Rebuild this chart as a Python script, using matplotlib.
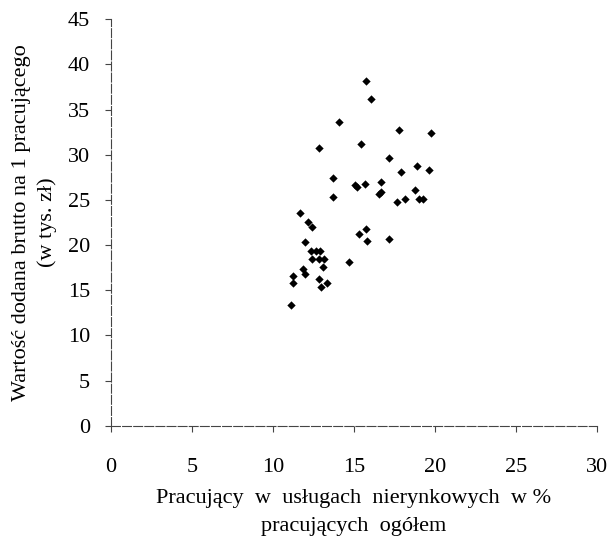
import numpy as np
import matplotlib
matplotlib.use("Agg")
import matplotlib.pyplot as plt

plt.rcParams['font.family'] = ['Liberation Serif', 'DejaVu Serif']

# pracujacy w uslugach nierynkowych (%), wartosc dodana (tys. zl)
pracujacy = [15.72, 16.05, 14.09, 17.78, 19.77, 12.86, 15.43, 17.16, 13.70, 17.90,
             18.89, 19.63, 15.06, 15.20, 15.70, 16.67, 16.54, 16.67, 18.75, 13.70,
             17.63, 18.15, 19.03, 19.28, 11.65, 12.14, 12.39, 15.31, 15.72, 15.83,
             17.16, 12.00, 12.35, 12.64, 12.88, 12.39, 12.86, 13.17, 14.71, 13.11,
             11.83, 11.98, 11.25, 11.25, 12.86, 13.35, 12.96, 11.13]
wartosc = [38.2, 36.2, 33.6, 32.7, 32.4, 30.7, 31.2, 29.6, 27.4, 28.1,
           28.8, 28.3, 26.6, 26.4, 26.8, 27.0, 25.7, 25.9, 26.1, 25.3,
           24.8, 25.1, 25.1, 25.1, 23.6, 22.5, 22.0, 21.2, 21.8, 20.5,
           20.7, 20.3, 19.4, 19.4, 19.4, 18.5, 18.5, 18.5, 18.1, 17.6,
           17.4, 16.8, 16.6, 15.8, 16.3, 15.8, 15.4, 13.4]

fig = plt.figure(figsize=(6.14, 5.46), dpi=100)
ax = fig.add_axes([0.181, 0.22, 0.791, 0.745])

ax.scatter(pracujacy, wartosc, marker='D', s=18, color='black', linewidths=0)

ax.set_xlim(0, 30)
ax.set_ylim(0, 45)
ax.set_xticks(np.arange(0, 31, 5))
ax.set_yticks(np.arange(0, 46, 5))

for s in ['top', 'right']:
    ax.spines[s].set_visible(False)
for s in ['left', 'bottom']:
    ax.spines[s].set_color('#444444')
    ax.spines[s].set_linewidth(0.8)
    ax.spines[s].set_linestyle((0, (8, 2)))

ax.tick_params(axis='x', direction='out', length=4, width=0.8, color='#444444',
               labelsize=16, pad=19)
ax.tick_params(axis='y', direction='out', length=4, width=0.8, color='#444444',
               labelsize=16, pad=11)

ax.set_xlabel('Pracujący  w  usługach  nierynkowych  w %\npracujących  ogółem',
              fontsize=16, linespacing=1.6, labelpad=9)
ax.set_ylabel('Wartość dodana brutto na 1 pracującego\n(w tys. zł)',
              fontsize=16, linespacing=1.45, labelpad=8)

fig.savefig('out.png', dpi=100, facecolor='white')
